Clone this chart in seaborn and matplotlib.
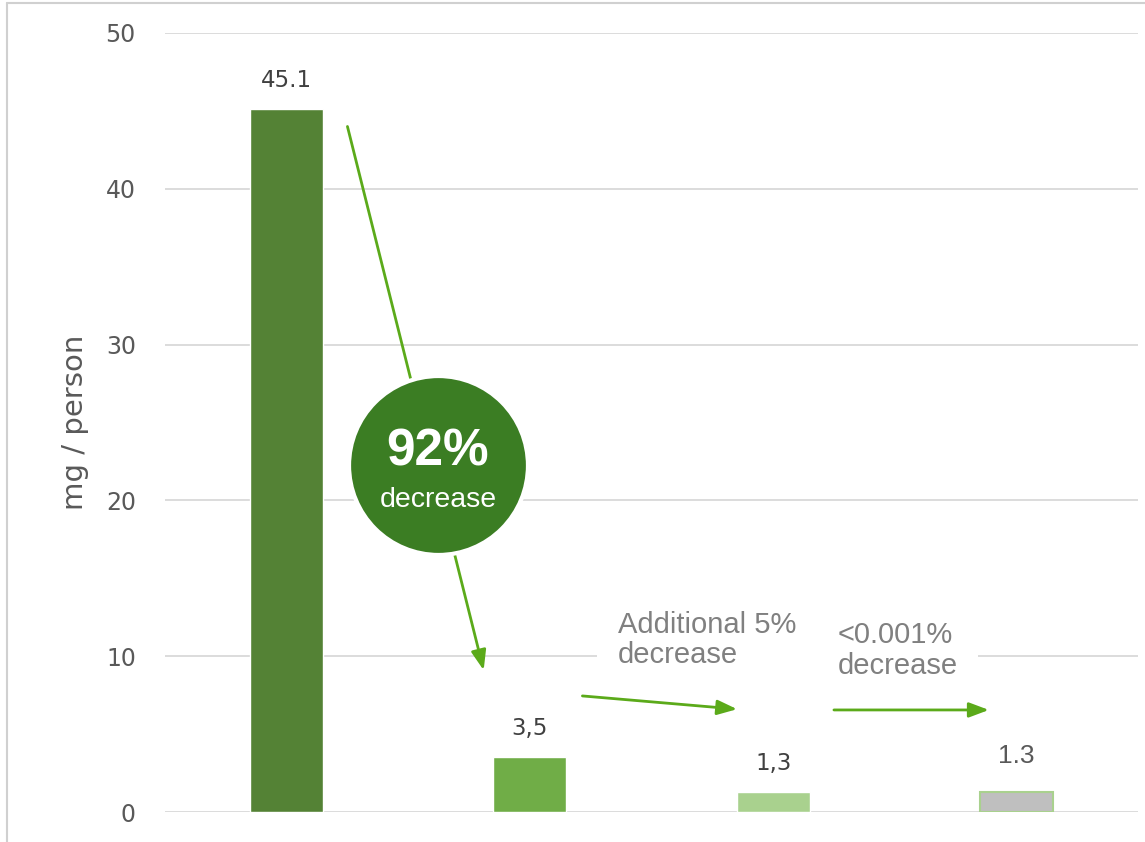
import matplotlib
matplotlib.use('Agg')
import matplotlib.pyplot as plt
import seaborn as sns
import pandas as pd
from matplotlib.lines import Line2D

# data
stages = ['Stage 1', 'Stage 2', 'Stage 3', 'Stage 4']
values = [45.1, 3.5, 1.3, 1.3]
value_labels = ['45.1', '3,5', '1,3', '1.3']
bar_colors = ['#548235', '#70AD47', '#A9D18E', '#BFBFBF']
y_ticks = [0, 10, 20, 30, 40, 50]

sns.set_style('white')
plt.rcParams['font.family'] = ['DejaVu Sans']

df = pd.DataFrame({'stage': stages, 'value': values})

fig = plt.figure(figsize=(11.45, 8.42), dpi=100)
ax = fig.add_axes([165 / 1145, 30 / 842, (1138 - 165) / 1145, (812 - 33) / 842])

sns.barplot(data=df, x='stage', y='value', hue='stage', palette=bar_colors,
            legend=False, width=0.30, ax=ax, zorder=2, saturation=1)
# light green outline on the last (grey) bar
ax.patches[3].set_edgecolor('#A9D18E')
ax.patches[3].set_linewidth(1.5)

ax.set_ylim(0, 50)
ax.set_xlim(-0.5, 3.5)
ax.set_yticks(y_ticks)
ax.set_xticks([])
ax.set_xlabel('')
ax.set_ylabel('mg / person', fontsize=21, color='#595959', labelpad=12)
ax.tick_params(axis='y', labelsize=17, labelcolor='#595959', length=0, pad=21)
ax.grid(axis='y', color='#D9D9D9', linewidth=1.3, zorder=0)
ax.set_axisbelow(True)
for s in ax.spines.values():
    s.set_visible(False)

# value labels
for i, (v, lab) in enumerate(zip(values, value_labels)):
    if i == 3:
        ax.text(i, v + 1.5, lab, ha='center', va='bottom', fontsize=19,
                color='#595959', family=['Liberation Sans', 'DejaVu Sans'])
    else:
        ax.text(i, v + 1.1, lab, ha='center', va='bottom', fontsize=16.5,
                color='#404040')

arrow_color = '#5BAA1A'
arrow_kw = dict(arrowstyle='-|>,head_length=1.2,head_width=0.45', color=arrow_color,
                lw=2, shrinkA=0, shrinkB=0)

# big drop arrow, passes behind the circle
ax.annotate('', xy=(0.81, 9.1), xytext=(0.25, 44.0), arrowprops=arrow_kw, zorder=3)
ax.annotate('', xy=(1.852, 6.6), xytext=(1.216, 7.45), arrowprops=arrow_kw, zorder=3)
ax.annotate('', xy=(2.887, 6.55), xytext=(2.25, 6.55), arrowprops=arrow_kw, zorder=3)

# circle badge
ax.scatter([0.622], [22.3], s=16600, color='#3B7D23', edgecolor='white',
           linewidth=3, zorder=4, clip_on=False)
ax.text(0.622, 23.1, '92%', ha='center', va='center', fontsize=37,
        fontweight='bold', color='white', zorder=5,
        family=['Liberation Sans', 'DejaVu Sans'])
ax.text(0.622, 20.0, 'decrease', ha='center', va='center', fontsize=20.5,
        color='white', zorder=5, family=['Liberation Sans', 'DejaVu Sans'])

box = dict(facecolor='white', edgecolor='none', pad=15)
ax.text(1.363, 11.05, 'Additional 5%\ndecrease', ha='left', va='center',
        fontsize=21, color='#808080', linespacing=1.12, bbox=box, zorder=5,
        family=['Liberation Sans', 'DejaVu Sans'])
ax.text(2.265, 10.35, '<0.001%\ndecrease', ha='left', va='center',
        fontsize=21, color='#808080', linespacing=1.12, bbox=box, zorder=5,
        family=['Liberation Sans', 'DejaVu Sans'])

# thin frame at top and left edges
fig.add_artist(Line2D([7 / 1145, 7 / 1145], [0, 1 - 3 / 842], color='#D0D0D0', lw=1.5,
                      transform=fig.transFigure))
fig.add_artist(Line2D([7 / 1145, 1], [1 - 3 / 842, 1 - 3 / 842], color='#D0D0D0', lw=1.5,
                      transform=fig.transFigure))

fig.savefig('out.png', dpi=100)
